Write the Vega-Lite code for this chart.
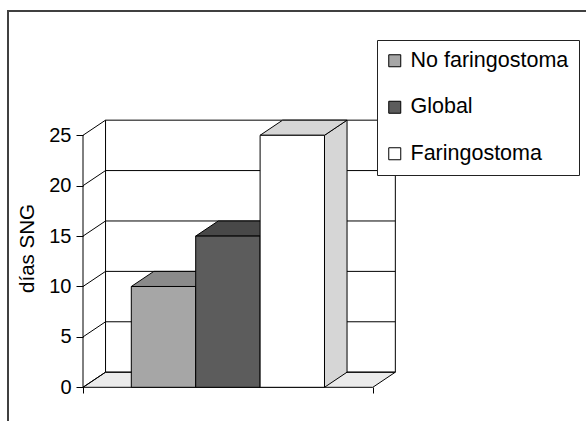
{
  "$schema": "https://vega.github.io/schema/vega-lite/v6.json",
  "width": 590,
  "height": 420,
  "autosize": "none",
  "padding": {"left": 8, "top": 11, "right": -12, "bottom": -10},
  "background": "white",
  "config": {
    "font": "Liberation Sans",
    "view": {"stroke": "#404040", "strokeWidth": 2}
  },
  "datasets": {
    "dias": [
      {"serie": "No faringostoma", "dias": 10},
      {"serie": "Global", "dias": 15},
      {"serie": "Faringostoma", "dias": 25}
    ],
    "ticks": [{"v": 0}, {"v": 5}, {"v": 10}, {"v": 15}, {"v": 20}, {"v": 25}]
  },
  "layer": [
    {
      "data": {"name": "ticks"},
      "transform": [
        {"filter": "datum.v == 0"},
        {"calculate": "[0, 1]", "as": "p"},
        {"flatten": ["p"]},
        {"calculate": "datum.p * 0.35", "as": "fx"},
        {"calculate": "4.5 + datum.p * 0.35", "as": "fx2"},
        {"calculate": "datum.p * 1.5", "as": "fy"}
      ],
      "mark": {"type": "area", "orient": "horizontal", "fill": "#ebebeb", "stroke": "black", "strokeWidth": 1},
      "encoding": {
        "y": {
          "field": "fy", "type": "quantitative",
          "scale": {"domain": [-4.335, 37.33], "nice": false, "zero": false},
          "axis": {
            "orient": "left", "offset": -75, "values": [0, 5, 10, 15, 20, 25], "domain": false, "grid": false,
            "ticks": true, "tickSize": 7, "tickColor": "black", "tickWidth": 1,
            "labelFontSize": 20, "labelColor": "black", "labelPadding": 5,
            "title": "días SNG", "titleFontSize": 20.5, "titleFontWeight": "normal", "titleColor": "black",
            "titleX": -50, "titleY": 237, "titleBaseline": "alphabetic", "titleAlign": "center", "titleAngle": -90
          }
        },
        "x": {
          "field": "fx", "type": "quantitative",
          "scale": {"domain": [-1.1646, 7.9969], "nice": false, "zero": false},
          "axis": {"orient": "bottom", "offset": -44, "values": [0, 4.5], "labels": false, "domain": false, "grid": false, "ticks": true, "tickSize": 6, "tickColor": "black", "title": null}
        },
        "x2": {"field": "fx2"}
      }
    },
    {
      "data": {"name": "ticks"},
      "transform": [{"calculate": "datum.v + 1.5", "as": "vb"}],
      "mark": {"type": "rule", "color": "black", "strokeWidth": 1},
      "encoding": {
        "x": {"datum": 0, "type": "quantitative"},
        "x2": {"datum": 0.35},
        "y": {"field": "v", "type": "quantitative"},
        "y2": {"field": "vb"}
      }
    },
    {
      "data": {"name": "ticks"},
      "transform": [{"calculate": "datum.v + 1.5", "as": "vb"}],
      "mark": {"type": "rule", "color": "black", "strokeWidth": 1},
      "encoding": {
        "x": {"datum": 0.35, "type": "quantitative"},
        "x2": {"datum": 4.85},
        "y": {"field": "vb", "type": "quantitative"}
      }
    },
    {
      "data": {"name": "ticks"},
      "transform": [
        {"aggregate": [{"op": "min", "field": "v", "as": "lo"}, {"op": "max", "field": "v", "as": "hi"}]},
        {"calculate": "[0, 1, 2]", "as": "col"},
        {"flatten": ["col"]},
        {"calculate": "datum.col == 0 ? 0 : (datum.col == 1 ? 0.35 : 4.85)", "as": "rx"},
        {"calculate": "datum.lo + (datum.col > 0 ? 1.5 : 0)", "as": "ry"},
        {"calculate": "datum.hi + (datum.col > 0 ? 1.5 : 0)", "as": "ry2"}
      ],
      "mark": {"type": "rule", "color": "black", "strokeWidth": 1},
      "encoding": {
        "x": {"field": "rx", "type": "quantitative"},
        "y": {"field": "ry", "type": "quantitative"},
        "y2": {"field": "ry2"}
      }
    },
    {
      "data": {"name": "dias"},
      "transform": [
        {"window": [{"op": "row_number", "as": "rank"}]},
        {"calculate": "datum.rank + 0.75", "as": "x1"},
        {"calculate": "[0, 1]", "as": "p"},
        {"flatten": ["p"]},
        {"calculate": "datum.x1 + datum.p * 0.35", "as": "sx"},
        {"calculate": "datum.p * 1.5", "as": "sy"},
        {"calculate": "datum.dias + datum.p * 1.5", "as": "sy2"}
      ],
      "mark": {"type": "area", "orient": "vertical", "stroke": "black", "strokeWidth": 1},
      "encoding": {
        "x": {"field": "sx", "type": "quantitative"},
        "y": {"field": "sy2", "type": "quantitative", "stack": null},
        "y2": {"field": "sy"},
        "fill": {"field": "serie", "type": "nominal", "scale": {"domain": ["No faringostoma", "Global", "Faringostoma"], "range": ["#8a8a8a", "#484848", "#d6d6d6"]}, "legend": null},
        "detail": {"field": "serie"}
      }
    },
    {
      "data": {"name": "dias"},
      "transform": [
        {"window": [{"op": "row_number", "as": "rank"}]},
        {"calculate": "datum.rank - 0.25", "as": "x0"},
        {"calculate": "datum.rank + 0.75", "as": "x1"},
        {"calculate": "[0, 1]", "as": "p"},
        {"flatten": ["p"]},
        {"calculate": "datum.x0 + datum.p * 0.35", "as": "tx"},
        {"calculate": "datum.x1 + datum.p * 0.35", "as": "tx2"},
        {"calculate": "datum.dias + datum.p * 1.5", "as": "ty"}
      ],
      "mark": {"type": "area", "orient": "horizontal", "stroke": "black", "strokeWidth": 1},
      "encoding": {
        "y": {"field": "ty", "type": "quantitative"},
        "x": {"field": "tx", "type": "quantitative", "stack": null},
        "x2": {"field": "tx2"},
        "fill": {"field": "serie", "type": "nominal", "scale": {"domain": ["No faringostoma", "Global", "Faringostoma"], "range": ["#8a8a8a", "#484848", "#d6d6d6"]}, "legend": null},
        "detail": {"field": "serie"}
      }
    },
    {
      "data": {"name": "dias"},
      "transform": [
        {"window": [{"op": "row_number", "as": "rank"}]},
        {"calculate": "datum.rank - 0.25", "as": "x0"},
        {"calculate": "datum.rank + 0.75", "as": "x1"}
      ],
      "mark": {"type": "rect", "stroke": "black", "strokeWidth": 1},
      "encoding": {
        "x": {"field": "x0", "type": "quantitative"},
        "x2": {"field": "x1"},
        "y": {"field": "dias", "type": "quantitative"},
        "y2": {"datum": 0},
        "color": {
          "field": "serie", "type": "nominal",
          "scale": {"domain": ["No faringostoma", "Global", "Faringostoma"], "range": ["#a6a6a6", "#5c5c5c", "#ffffff"]},
          "legend": {
            "orient": "none", "legendX": 369, "legendY": 29, "title": null,
            "strokeColor": "#222222", "fillColor": "white", "padding": 10,
            "symbolType": "square", "symbolSize": 144, "symbolStrokeColor": "black", "symbolStrokeWidth": 1,
            "symbolOffset": -3,
            "labelFontSize": 21.5, "labelColor": "black", "labelOffset": 5, "rowPadding": 23.5,
            "labelLimit": 260,
            "labelExpr": "datum.label + '\u00a0\u00a0'"
          }
        }
      }
    }
  ],
  "resolve": {"scale": {"fill": "independent"}, "legend": {"fill": "independent", "color": "independent"}}
}
